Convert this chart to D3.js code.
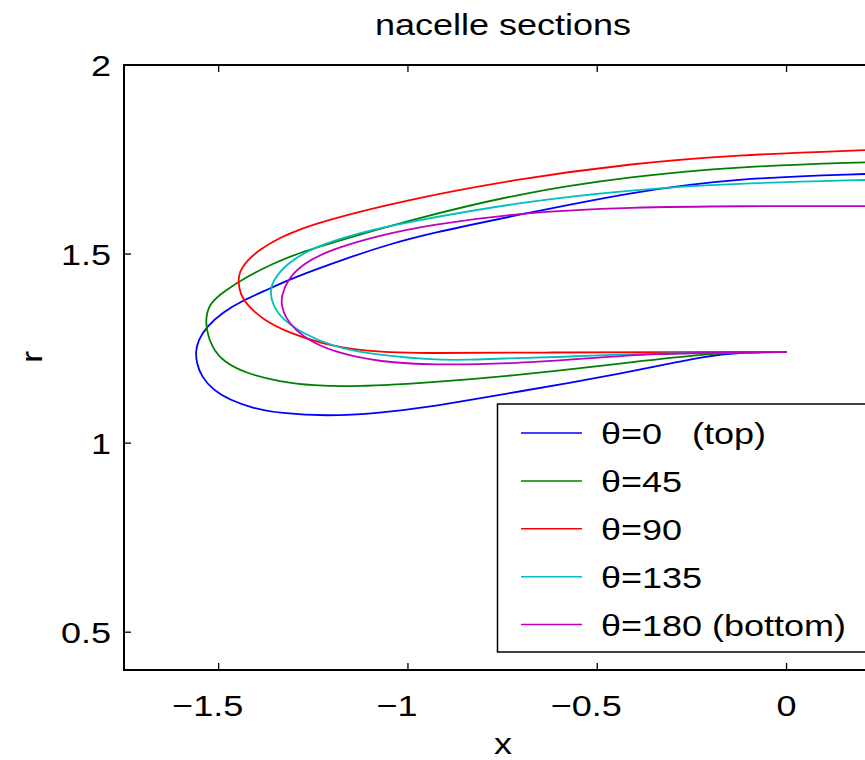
<!DOCTYPE html>
<html><head><meta charset="utf-8">
<script src="https://cdn.jsdelivr.net/npm/d3@7"></script>
<style>body{margin:0;background:#fff}svg{display:block}text{font-family:"Liberation Sans",Arial,Helvetica,sans-serif;fill:#000}</style>
</head><body>
<script>
// ---- data ----
const seriesNames = ["θ=0   (top)", "θ=45", "θ=90", "θ=135", "θ=180 (bottom)"];
const seriesColors = ["#0000ff", "#008000", "#ff0000", "#00bfbf", "#bf00bf"];
const theta0 = [[0,1.241],[-0.13,1.240],[-0.218,1.229],[-0.33,1.206],[-0.438,1.184],[-0.57,1.160],[-0.703,1.137],[-0.83,1.115],[-0.942,1.096],[-1.074,1.079],[-1.215,1.071],[-1.338,1.079],[-1.409,1.092],[-1.470,1.114],[-1.514,1.140],[-1.545,1.175],[-1.558,1.211],[-1.561,1.2415],[-1.554,1.272],[-1.532,1.308],[-1.490,1.346],[-1.435,1.378],[-1.364,1.409],[-1.307,1.436],[-1.162,1.489],[-1.056,1.524],[-0.941,1.555],[-0.711,1.603],[-0.403,1.665],[-0.139,1.700],[0.209,1.712],[0.25,1.713]];
const theta45 = [[0,1.241],[-0.13,1.240],[-0.218,1.235],[-0.438,1.211],[-0.703,1.180],[-0.942,1.160],[-1.143,1.149],[-1.250,1.152],[-1.338,1.162],[-1.426,1.184],[-1.488,1.215],[-1.519,1.255],[-1.532,1.299],[-1.534,1.334],[-1.523,1.370],[-1.488,1.400],[-1.426,1.440],[-1.356,1.475],[-1.292,1.502],[-1.160,1.542],[-1.020,1.583],[-0.711,1.661],[-0.403,1.706],[-0.139,1.731],[0.209,1.743],[0.25,1.744]];
const theta90 = [[0,1.241],[-0.3,1.241],[-0.615,1.240],[-0.94,1.237],[-1.117,1.242],[-1.231,1.264],[-1.310,1.290],[-1.381,1.325],[-1.425,1.365],[-1.442,1.392],[-1.449,1.427],[-1.445,1.453],[-1.428,1.480],[-1.393,1.511],[-1.340,1.543],[-1.280,1.568],[-1.213,1.590],[-1.020,1.640],[-0.711,1.699],[-0.403,1.740],[-0.139,1.762],[0.209,1.775],[0.25,1.776]];
const theta135 = [[0,1.241],[-0.13,1.240],[-0.438,1.235],[-0.615,1.227],[-0.755,1.224],[-0.835,1.220],[-0.942,1.220],[-1.118,1.237],[-1.206,1.259],[-1.277,1.290],[-1.329,1.325],[-1.356,1.361],[-1.365,1.400],[-1.356,1.431],[-1.320,1.475],[-1.250,1.519],[-1.118,1.559],[-1.020,1.581],[-0.711,1.637],[-0.403,1.671],[-0.139,1.687],[0.209,1.696],[0.25,1.697]];
const theta180 = [[0,1.241],[-0.13,1.240],[-0.350,1.237],[-0.527,1.224],[-0.703,1.211],[-0.942,1.206],[-1.074,1.215],[-1.180,1.237],[-1.250,1.264],[-1.298,1.299],[-1.325,1.334],[-1.334,1.365],[-1.334,1.387],[-1.320,1.431],[-1.277,1.475],[-1.206,1.511],[-1.074,1.550],[-0.942,1.577],[-0.711,1.609],[-0.403,1.624],[-0.139,1.627],[0.25,1.627]];
const seriesData = [theta0, theta45, theta90, theta135, theta180];
const xTicks = [-1.5, -1, -0.5, 0];
const yTicks = [0.5, 1, 1.5, 2];
const xDomain = [-1.75, 0.25];
const yDomain = [0.4, 2];
const titleText = "nacelle sections";
const xLabel = "x";
const yLabel = "r";

// ---- layout ----
const W = 865, H = 760;
const L = 124, T = 65, B = 670, R = 124 + 2 * 378.6;
const FS = 30, SX = 1.2;

const svg = d3.select("body").append("svg").attr("width", W).attr("height", H);
const x = d3.scaleLinear().domain(xDomain).range([L, R]);
const y = d3.scaleLinear().domain(yDomain).range([B, T]);

function txt(g, str, px, py, anchor, rot, fs, sx) {
  return g.append("text")
    .attr("transform", `translate(${px},${py})` + (rot ? ` rotate(${rot})` : "") + ` scale(${sx || SX},1)`)
    .attr("text-anchor", anchor)
    .attr("font-size", fs || FS)
    .style("white-space", "pre")
    .text(str);
}

svg.append("defs").append("clipPath").attr("id", "clip")
  .append("rect").attr("x", L).attr("y", T).attr("width", R - L).attr("height", B - T);

// curves
const line = d3.line().x(d => x(d[0])).y(d => y(d[1])).curve(d3.curveBasis);
const plot = svg.append("g").attr("clip-path", "url(#clip)");
seriesData.forEach((s, i) => {
  plot.append("path").attr("d", line(s)).attr("fill", "none")
    .attr("stroke", seriesColors[i]).attr("stroke-width", 1.8);
});

// axes
const fmt = d => d3.format("")(d);
const ax = svg.append("g");
const tickLen = 7;
const xb = d3.axisBottom(x).tickValues(xTicks).tickSize(0).tickFormat("");
ax.append("g").attr("transform", `translate(0,${B})`).call(xb).call(g => g.select(".domain").remove());
xTicks.forEach(v => {
  ax.append("line").attr("x1", x(v)).attr("x2", x(v)).attr("y1", B).attr("y2", B - tickLen).attr("stroke", "#000").attr("stroke-width", 1.3);
  ax.append("line").attr("x1", x(v)).attr("x2", x(v)).attr("y1", T).attr("y2", T + tickLen).attr("stroke", "#000").attr("stroke-width", 1.3);
  txt(ax, fmt(v), x(v) - (v < 0 ? 11 : 0), 716, "middle");
});
yTicks.forEach(v => {
  ax.append("line").attr("x1", L).attr("x2", L + tickLen).attr("y1", y(v)).attr("y2", y(v)).attr("stroke", "#000").attr("stroke-width", 1.3);
  ax.append("line").attr("x1", R).attr("x2", R - tickLen).attr("y1", y(v)).attr("y2", y(v)).attr("stroke", "#000").attr("stroke-width", 1.3);
  txt(ax, fmt(v), 111, y(v) + 11, "end");
});
ax.append("rect").attr("x", L).attr("y", T).attr("width", R - L).attr("height", B - T)
  .attr("fill", "none").attr("stroke", "#000").attr("stroke-width", 2);

// title and labels
txt(svg, titleText, 503, 35, "middle");
txt(svg, xLabel, 503, 754, "middle");
txt(svg, yLabel, 42, 357, "middle", -90);

// legend
const lg = svg.append("g");
lg.append("rect").attr("x", 497.5).attr("y", 404).attr("width", 400).attr("height", 248)
  .attr("fill", "#fff").attr("stroke", "#000").attr("stroke-width", 1.5);
seriesNames.forEach((n, i) => {
  const cy = 433 + 47.9 * i;
  lg.append("line").attr("x1", 521).attr("x2", 582).attr("y1", cy).attr("y2", cy)
    .attr("stroke", seriesColors[i]).attr("stroke-width", 1.5);
  txt(lg, n, 601, cy + 11, "start");
});
</script>
</body></html>
